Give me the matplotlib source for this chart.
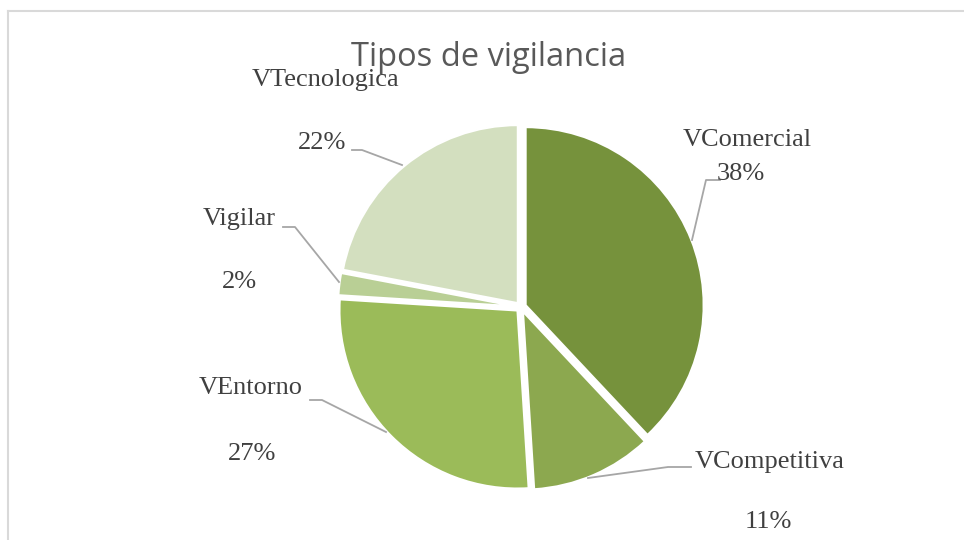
import matplotlib
matplotlib.use("Agg")
import matplotlib.pyplot as plt
from matplotlib.lines import Line2D

categorias = ['VComercial', 'VCompetitiva', 'VEntorno', 'Vigilar', 'VTecnologica']
porcentajes = [38, 11, 27, 2, 22]
colores = ['#76923C', '#8CA84F', '#9BBB59', '#B9CF95', '#D3DFBF']

# posiciones de etiquetas en pixeles (x, y desde arriba): nombre, porcentaje
pos_nombre = [(747, 140), (770, 462), (251, 388), (239, 219), (326, 80)]
pos_pct = [(741, 174), (768, 522), (252, 454), (239, 282), (322, 143)]
# lineas guia en pixeles
guias = [
    [(720, 180), (706, 180), (692, 240)],
    [(691, 467), (668, 467), (588, 478)],
    [(310, 400), (322, 400), (386, 432)],
    [(283, 227), (295, 227), (339, 282)],
    [(352, 150), (362, 150), (402, 165)],
]

W, H = 964, 540
fig = plt.figure(figsize=(9.64, 5.4), dpi=100)
ax = fig.add_axes([0, 0, 1, 1])

centro = (521, H - 307)
radio = 178
# explode en pixeles (matplotlib no lo escala con el radio)
ax.pie(porcentajes, colors=colores, startangle=90, counterclock=False,
       center=centro, radius=radio, explode=[5] * len(porcentajes),
       wedgeprops=dict(edgecolor='white', linewidth=1.5), frame=True)
ax.set_xlim(0, W)
ax.set_ylim(0, H)
ax.set_aspect('equal')
ax.axis('off')

for nombre, pct, pn, pp, g in zip(categorias, porcentajes, pos_nombre, pos_pct, guias):
    ax.text(pn[0], H - pn[1], nombre, ha='center', va='center',
            family='Liberation Serif', fontsize=19, color='#404040')
    ax.text(pp[0], H - pp[1], f'{pct}%', ha='center', va='center',
            family='Liberation Serif', fontsize=19, color='#404040')
    ax.plot([p[0] for p in g], [H - p[1] for p in g], color='#A6A6A6', lw=1.3)

fig.text(489 / W, 1 - 57 / H, 'Tipos de vigilancia', ha='center', va='center',
         family='Open Sans', fontsize=23.5, color='#595959')

# marco del grafico
fig.add_artist(Line2D([8 / W, 8 / W], [0, 1 - 10.5 / H], color='#D9D9D9', lw=1.5))
fig.add_artist(Line2D([8 / W, 1], [1 - 10.5 / H, 1 - 10.5 / H], color='#D9D9D9', lw=1.5))

fig.savefig('out.png', dpi=100, facecolor='white')
